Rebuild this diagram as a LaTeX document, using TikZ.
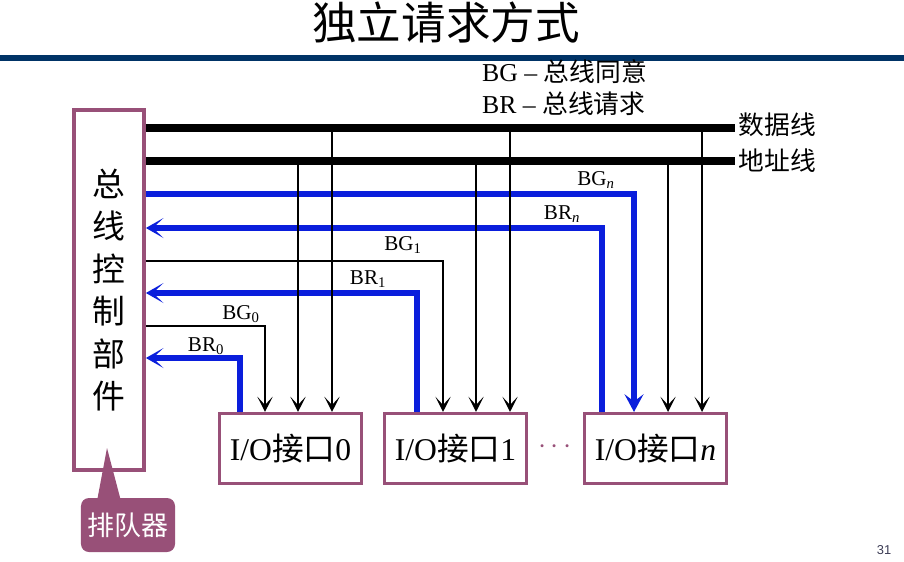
\documentclass[tikz,border=0pt]{standalone}
\usepackage{fontspec}
\setmainfont{Liberation Serif}
\newfontfamily\cjk{Noto Sans CJK SC}
\newfontfamily\sansnum{Liberation Sans}
\usetikzlibrary{arrows.meta, positioning}

\definecolor{mauve}{RGB}{152,80,120}
\definecolor{navy}{RGB}{0,51,102}
\definecolor{sigblue}{RGB}{10,30,220}
\definecolor{pgnum}{RGB}{60,60,85}

\newcommand{\zh}[1]{{\cjk #1}}

\begin{document}
\begin{tikzpicture}[
    x=0.03cm, y=-0.03cm,
    ctlbox/.style={draw=mauve, line width=3.2pt, minimum width=2.1cm, minimum height=10.8cm, inner sep=0pt, align=center, font=\fontsize{28}{36.3}\selectfont\cjk},
    iobox/.style={draw=mauve, line width=2.6pt, minimum width=4.26cm, minimum height=2.1cm, inner sep=0pt, font=\fontsize{27}{30}\selectfont},
    queue/.style={fill=mauve, rounded corners=0.24cm, minimum width=2.82cm, minimum height=1.62cm, text=white, font=\fontsize{23}{25}\selectfont\cjk},
    bus/.style={line width=6pt},
    buslab/.style={font=\fontsize{22}{24}\selectfont\cjk, inner sep=0pt},
    grant/.style={line width=2.4pt, -{Stealth[length=13pt, width=13pt, inset=7pt]}},
    tap/.style={line width=2.4pt, -{Stealth[length=13pt, width=13pt, inset=7pt]}},
    grantn/.style={sigblue, line width=4.8pt, -{Stealth[length=15pt, width=16pt, inset=6pt]}},
    req/.style={sigblue, line width=4.8pt, -{Stealth[length=15pt, width=17pt, inset=9pt]}},
    sig/.style={font=\fontsize{18}{20}\selectfont, inner sep=0pt},
    junc/.style={circle, fill, inner sep=0pt, minimum size=6pt},
]
\useasboundingbox (0,0) rectangle (904,561);

% Title and rule
\node[font=\fontsize{38}{40}\selectfont\cjk] (title) at (446,22) {独立请求方式};
\coordinate (rl) at (0,58);
\coordinate (rr) at (904,58);
\draw[navy, line width=4.5pt] (rl) -- (rr);

% Legend
\node[anchor=west, font=\fontsize{22}{24}\selectfont] (leg1) at (478,72) {BG -- \zh{总线同意}};
\node[anchor=west, font=\fontsize{22}{24}\selectfont] (leg2) at (478,104) {BR -- \zh{总线请求}};

% Bus controller
\node[ctlbox] (ctrl) at (109,290) {总\\线\\控\\制\\部\\件};

% I/O interfaces
\node[iobox] (io0) at (290.5,448.5) {I/O\zh{接口}0};
\node[iobox] (io1) at (455.5,448.5) {I/O\zh{接口}1};
\node[iobox] (ion) at (655.5,448.5) {I/O\zh{接口}\textit{n}};
\node[text=mauve, font=\fontsize{24}{25}\selectfont] (dots) at (555,447) {$\cdots$};

% Data and address bus
\coordinate (dend) at (735,128);
\coordinate (aend) at (735,161);
\draw[bus] (ctrl.east |- dend) -- (dend);
\draw[bus] (ctrl.east |- aend) -- (aend);
\node[buslab, right=0.1cm of dend, yshift=0.1cm] (dlab) {数据线};
\node[buslab, right=0.1cm of aend] (alab) {地址线};

% Grant / request lines, device n
\coordinate (bgn) at (634,194);
\coordinate (brn) at (602,228);
\draw[grantn] (ctrl.east |- bgn) -- (bgn) -- (bgn |- ion.north);
\draw[req] (brn |- ion.north) -- (brn) -- (ctrl.east |- brn);
\node[sig] (lbgn) at (596,180) {BG\textsubscript{\textit{n}}};
\node[sig] (lbrn) at (562,214) {BR\textsubscript{\textit{n}}};

% Grant / request lines, device 1
\coordinate (bg1) at (443,261);
\coordinate (br1) at (417,293);
\draw[grant] (ctrl.east |- bg1) -- (bg1) -- (bg1 |- io1.north);
\draw[req] (br1 |- io1.north) -- (br1) -- (ctrl.east |- br1);
\node[sig] (lbg1) at (403,245) {BG\textsubscript{1}};
\node[sig] (lbr1) at (368,279) {BR\textsubscript{1}};

% Grant / request lines, device 0
\coordinate (bg0) at (265,326);
\coordinate (br0) at (240,358);
\draw[grant] (ctrl.east |- bg0) -- (bg0) -- (bg0 |- io0.north);
\draw[req] (br0 |- io0.north) -- (br0) -- (ctrl.east |- br0);
\node[sig] (lbg0) at (241,314) {BG\textsubscript{0}};
\node[sig] (lbr0) at (206,346) {BR\textsubscript{0}};

% Bus taps
\coordinate (a0) at (298,161);
\coordinate (d0) at (332,128);
\coordinate (a1) at (476,161);
\coordinate (d1) at (510,128);
\coordinate (an) at (668,161);
\coordinate (dn) at (702,128);
\draw[tap] (a0) -- (a0 |- io0.north);
\draw[tap] (d0) -- (d0 |- io0.north);
\draw[tap] (a1) -- (a1 |- io1.north);
\draw[tap] (d1) -- (d1 |- io1.north);
\draw[tap] (an) -- (an |- ion.north);
\draw[tap] (dn) -- (dn |- ion.north);
\node[junc] (ja0) at (a0) {};
\node[junc] (jd0) at (d0) {};
\node[junc] (ja1) at (a1) {};
\node[junc] (jd1) at (d1) {};
\node[junc] (jan) at (an) {};
\node[junc] (jdn) at (dn) {};

% Queue callout
\node[queue] (queue) at (128,525) {排队器};
\coordinate (qtip) at (107,448);
\fill[mauve] (qtip) -- ([xshift=-0.93cm, yshift=-0.1cm]queue.north) -- ([xshift=-0.21cm, yshift=-0.1cm]queue.north) -- cycle;

% Page number
\node[font=\sansnum\fontsize{11}{13}\selectfont, text=pgnum] (page) at (884,550) {31};

\end{tikzpicture}
\end{document}
